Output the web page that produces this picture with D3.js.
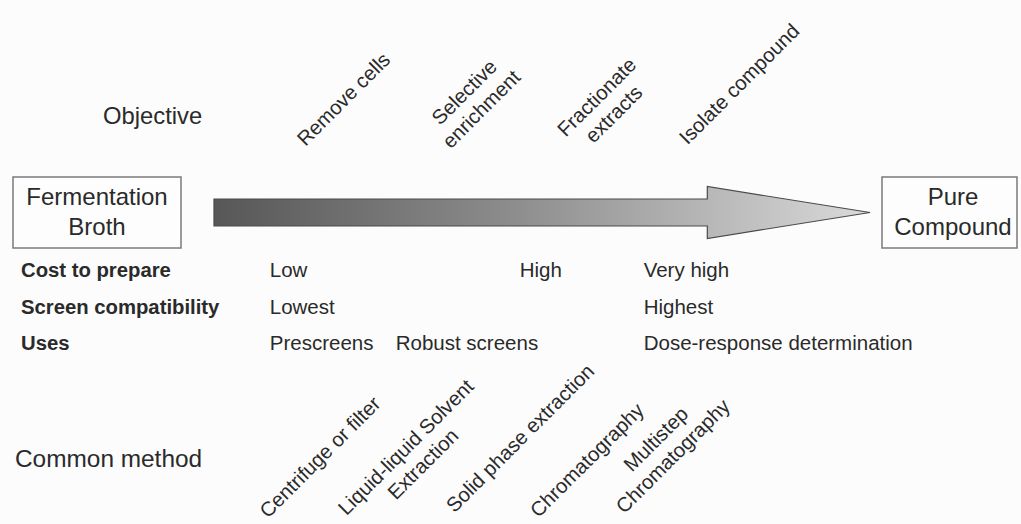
<!DOCTYPE html>
<html>
<head>
<meta charset="utf-8">
<script src="https://cdn.jsdelivr.net/npm/d3@7"></script>
<style>
  html, body { margin: 0; padding: 0; background: #fcfcfc; }
  svg { display: block; font-family: "Liberation Sans", Arial, Helvetica, sans-serif; }
</style>
</head>
<body>
<div id="chart"></div>
<script>
// ---------- data ----------
const startLabel = ["Fermentation", "Broth"];
const endLabel = ["Pure", "Compound"];

const objectives = ["Remove cells", "Selective\nenrichment", "Fractionate\nextracts", "Isolate compound"];
const objectiveStage = [20.5, 38.9, 59.1, 80.8];     // progress along purification (0-100)
const objectiveLevel = [104, 97, 102, 89];

const methods = ["Centrifuge or filter", "Liquid-liquid Solvent\nExtraction", "Solid phase extraction", "Chromatography", "Multistep\nChromatography"];
const methodStage = [16.9, 30.0, 47.4, 57.6, 68.1];
const methodLevel = [462, 452, 443, 465, 444];

const rowLabels = ["Cost to prepare", "Screen compatibility", "Uses"];
const costValues = ["Low", "High", "Very high"];
const costStage = [8.5, 46.6, 65.5];
const compatValues = ["Lowest", "Highest"];
const compatStage = [8.5, 65.5];
const usesValues = ["Prescreens", "Robust screens", "Dose-response determination"];
const usesStage = [8.5, 27.7, 65.5];

const arrowHeadStart = 75.2;   // stage where the arrow head begins

// ---------- layout ----------
const W = 1021, H = 524;
const svg = d3.select("#chart").append("svg").attr("width", W).attr("height", H);
svg.append("rect").attr("width", W).attr("height", H).attr("fill", "#fcfcfc");

const x = d3.scaleLinear().domain([0, 100]).range([214, 870]);
const yRow = d3.scalePoint().domain(rowLabels).range([277, 350]);
const TEXT = "#2a2a2a";

// gradient
const defs = svg.append("defs");
const grad = defs.append("linearGradient").attr("id", "ag")
  .attr("gradientUnits", "userSpaceOnUse")
  .attr("x1", x(0)).attr("x2", x(100)).attr("y1", 0).attr("y2", 0);
grad.append("stop").attr("offset", "0%").attr("stop-color", "#575757");
grad.append("stop").attr("offset", "45%").attr("stop-color", "#8c8c8c");
grad.append("stop").attr("offset", "100%").attr("stop-color", "#dadada");

// arrow
const cy = 212.5, sh = 13.5, hh = 26;
const arrowPts = [
  [x(0), cy - sh], [x(arrowHeadStart), cy - sh], [x(arrowHeadStart), cy - hh],
  [x(100), cy], [x(arrowHeadStart), cy + hh], [x(arrowHeadStart), cy + sh], [x(0), cy + sh]
];
svg.append("path")
  .attr("d", d3.line()(arrowPts) + "Z")
  .attr("fill", "url(#ag)")
  .attr("stroke", "#4a4a4a").attr("stroke-width", 1.2);

// boxes
function box(x0, w, lines, cx) {
  svg.append("rect").attr("x", x0).attr("y", 177).attr("width", w).attr("height", 71)
    .attr("fill", "#fdfdfd").attr("stroke", "#7a7a7a").attr("stroke-width", 1.5);
  svg.selectAll(null).data(lines).enter().append("text")
    .attr("x", cx).attr("y", (d, i) => 205 + i * 30)
    .attr("text-anchor", "middle").attr("font-size", 24).attr("fill", TEXT)
    .text(d => d);
}
box(13, 168, startLabel, 97);
box(882, 135, endLabel, 953);

// section titles
svg.append("text").attr("x", 103).attr("y", 124).attr("font-size", 23.8).attr("fill", TEXT).text("Objective");
svg.append("text").attr("x", 15).attr("y", 467).attr("font-size", 24.4).attr("fill", TEXT).text("Common method");

// rotated labels
function rotated(labels, stages, levels) {
  const g = svg.selectAll(null).data(labels).enter().append("text")
    .attr("transform", (d, i) => `translate(${x(stages[i])},${levels[i]}) rotate(-45)`)
    .attr("text-anchor", "middle").attr("font-size", 20.3).attr("fill", TEXT);
  g.selectAll("tspan").data(d => d.split("\n")).enter().append("tspan")
    .attr("x", 0).attr("dy", (d, i) => i === 0 ? 0 : 24).text(d => d);
}
rotated(objectives, objectiveStage, objectiveLevel);
rotated(methods, methodStage, methodLevel);

// row labels
svg.selectAll(null).data(rowLabels).enter().append("text")
  .attr("x", 21).attr("y", d => yRow(d))
  .attr("font-size", 20.3).attr("font-weight", "bold").attr("fill", TEXT)
  .text(d => d);

// row values
const rows = [
  [rowLabels[0], costValues, costStage],
  [rowLabels[1], compatValues, compatStage],
  [rowLabels[2], usesValues, usesStage]
];
rows.forEach(([lab, vals, st]) => {
  svg.selectAll(null).data(vals).enter().append("text")
    .attr("x", (d, i) => x(st[i])).attr("y", yRow(lab))
    .attr("font-size", 20.5).attr("fill", TEXT)
    .text(d => d);
});
</script>
</body>
</html>
